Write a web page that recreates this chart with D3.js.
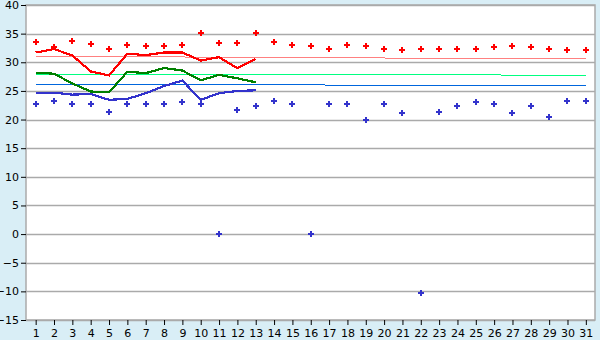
<!DOCTYPE html>
<html>
<head>
<meta charset="utf-8">
<script src="https://cdn.jsdelivr.net/npm/d3@7"></script>
<style>
  body { margin: 0; background: #d9eef6; }
  svg { display: block; }
  .tick text { font-family: "DejaVu Sans", Verdana, sans-serif; font-size: 11px; fill: #000; }
</style>
</head>
<body>
<div class="chart"></div>
<script>
var days = d3.range(1, 32);
var yTicks = [-15, -10, -5, 0, 5, 10, 15, 20, 25, 30, 35, 40];

var maxPoints = [33.5, 32.6, 33.65, 33.2, 32.3, 33.0, 32.8, 32.8, 33.0, 35.05, 33.3, 33.3, 35.05, 33.5, 33.1, 32.8,
    32.3, 33.0, 32.8, 32.3, 32.1, 32.3, 32.3, 32.3, 32.3, 32.6, 32.8, 32.6, 32.3, 32.1, 32.1];
var minPoints = [22.8, 23.2, 22.8, 22.65, 21.3, 22.65, 22.8, 22.8, 23.0, 22.8, 0, 21.6, 22.3, 23.3, 22.8, 0,
    22.8, 22.8, 20.0, 22.65, 21.1, -10.3, 21.4, 22.3, 23.0, 22.65, 21.2, 22.3, 20.4, 23.2, 23.2];

var redLine = [31.7, 32.3, 31.2, 28.4, 27.7, 31.5, 31.25, 31.7, 31.7, 30.3, 30.9, 28.95, 30.55];
var greenLine = [28.2, 28.0, 26.3, 24.9, 24.75, 28.35, 28.1, 29.0, 28.55, 26.85, 27.8, 27.2, 26.5];
var blueLine = [24.7, 24.7, 24.35, 24.45, 23.45, 23.6, 24.6, 25.85, 26.8, 23.45, 24.6, 25.0, 25.1];

// trend lines: value at day 1 and at day 31
var redTrend = [31.05, 30.57];
var greenTrend = [27.92, 27.75];
var blueTrend = [26.12, 25.95];

var W = 600, H = 340;
var margin = { top: 5, right: 5, bottom: 20, left: 26 };

var svg = d3.select(".chart")
    .append("svg")
    .attr("width", W)
    .attr("height", H);

var x = d3.scalePoint()
    .domain(days)
    .range([margin.left + 0.5, W - margin.right])
    .padding(0.5);

var y = d3.scaleLinear()
    .domain([-15, 40])
    .range([H - margin.bottom, margin.top]);

// plot area
svg.append("rect")
    .attr("x", margin.left)
    .attr("y", margin.top)
    .attr("width", W - margin.right - margin.left)
    .attr("height", H - margin.bottom - margin.top)
    .style("fill", "#fff");

// grid
svg.append("g").selectAll("line")
    .data(yTicks)
    .enter()
    .append("line")
    .attr("x1", margin.left)
    .attr("x2", W - margin.right)
    .attr("y1", function (d) { return Math.round(y(d)) + 0.5; })
    .attr("y2", function (d) { return Math.round(y(d)) + 0.5; })
    .attr("stroke", "#aaaaaa")
    .attr("stroke-width", 1.5);

// border
svg.append("rect")
    .attr("x", margin.left)
    .attr("y", margin.top)
    .attr("width", W - margin.right - margin.left)
    .attr("height", H - margin.bottom - margin.top)
    .style("fill", "none")
    .attr("stroke", "#aaaaaa")
    .attr("stroke-width", 1.5);

var yAxis = d3.axisLeft(y).tickValues(yTicks).tickSize(5).tickPadding(2).tickFormat(d3.format("d"));
var gy = svg.append("g")
    .attr("transform", "translate(" + margin.left + ",0)")
    .call(yAxis);
gy.select(".domain").remove();
gy.selectAll(".tick line").attr("stroke", "#000");

var xAxis = d3.axisBottom(x).tickSize(5).tickPadding(4);
var gx = svg.append("g")
    .attr("transform", "translate(0," + (H - margin.bottom) + ")")
    .call(xAxis);
gx.select(".domain").remove();
gx.selectAll(".tick line").attr("stroke", "#000");

// trend lines
function trend(vals, color) {
    svg.append("line")
        .attr("x1", x(days[0]))
        .attr("x2", x(days[days.length - 1]))
        .attr("y1", y(vals[0]))
        .attr("y2", y(vals[1]))
        .attr("stroke", color)
        .attr("stroke-width", 1)
        .style("shape-rendering", "crispEdges");
}
trend(redTrend, "#ff8080");
trend(greenTrend, "#00ff80");
trend(blueTrend, "#0066dd");

// series lines
var line = d3.line()
    .x(function (d, i) { return x(days[i]); })
    .y(function (d) { return y(d); });

function series(vals, color) {
    svg.append("path")
        .datum(vals)
        .attr("d", line)
        .attr("fill", "none")
        .attr("stroke", color)
        .attr("stroke-width", 2.2)
        .style("shape-rendering", "crispEdges");
}
series(redLine, "#ff0000");
series(greenLine, "#008000");
series(blueLine, "#3333cc");

// markers
var cross = d3.symbol().type(d3.symbolCross).size(20);
function markers(vals, color) {
    svg.append("g").selectAll("path")
        .data(vals)
        .enter()
        .append("path")
        .attr("d", cross)
        .attr("transform", function (d, i) { return "translate(" + x(days[i]) + "," + y(d) + ")"; })
        .style("fill", color)
        .style("shape-rendering", "crispEdges");
}
markers(maxPoints, "#ff0000");
markers(minPoints, "#3333cc");
</script>
</body>
</html>
